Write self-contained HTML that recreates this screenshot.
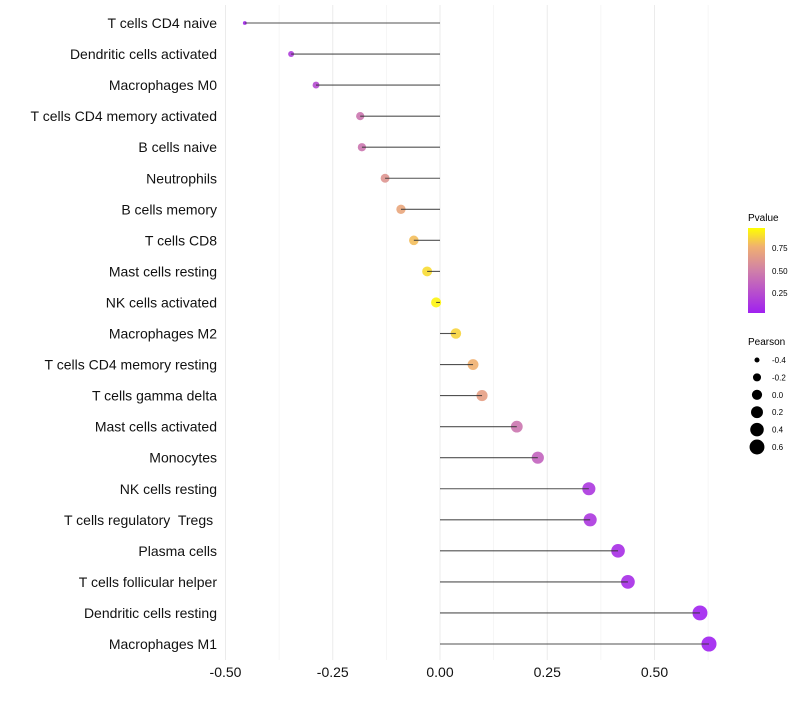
<!DOCTYPE html>
<html><head><meta charset="utf-8">
<style>
body{margin:0;background:#fff;font-family:"Liberation Sans",sans-serif;}
svg text{font-family:"Liberation Sans",sans-serif;white-space:pre;}
</style></head>
<body>
<svg id="chart" width="800" height="700">
<defs>
<linearGradient id="pgrad" x1="0" y1="1" x2="0" y2="0">
<stop offset="0" stop-color="#a020f0"/>
<stop offset="0.5" stop-color="#d080a8"/>
<stop offset="0.78" stop-color="#f0b070"/>
<stop offset="1" stop-color="#ffff00"/>
</linearGradient>
</defs>
<g id="grid"></g>
<g id="marks"></g>
<g id="axes"></g>
<g>
<text x="748" y="221" font-size="10">Pvalue</text>
<rect x="748" y="228" width="17" height="85" fill="url(#pgrad)"/>
<text x="772" y="251" font-size="8">0.75</text>
<text x="772" y="274" font-size="8">0.50</text>
<text x="772" y="296" font-size="8">0.25</text>
</g>
<g id="sizeLegend">
<text x="748" y="345" font-size="10">Pearson</text>
</g>
</svg>
<script>
const categories=["T cells CD4 naive","Dendritic cells activated","Macrophages M0","T cells CD4 memory activated","B cells naive","Neutrophils","B cells memory","T cells CD8","Mast cells resting","NK cells activated","Macrophages M2","T cells CD4 memory resting","T cells gamma delta","Mast cells activated","Monocytes","NK cells resting","T cells regulatory  Tregs ","Plasma cells","T cells follicular helper","Dendritic cells resting","Macrophages M1"];
const pearson=[-0.455,-0.347,-0.289,-0.186,-0.182,-0.128,-0.091,-0.061,-0.030,-0.009,0.037,0.077,0.098,0.179,0.228,0.347,0.350,0.415,0.438,0.606,0.627];
const pvalues=[0.03,0.15,0.22,0.45,0.45,0.62,0.72,0.82,0.9,0.97,0.88,0.78,0.68,0.45,0.35,0.12,0.12,0.07,0.06,0.01,0.005];
const xTicks=[-0.5,-0.25,0,0.25,0.5];
const xTickLabels=["-0.50","-0.25","0.00","0.25","0.50"];
const sizeLegendVals=[-0.4,-0.2,0.0,0.2,0.4,0.6];
const sizeLegendLabels=["-0.4","-0.2","0.0","0.2","0.4","0.6"];

const NS="http://www.w3.org/2000/svg";
const X=v=>440+v*429;
const Y=i=>23+i*31.05;
const R=v=>Math.sqrt(Math.max(2.5,26+49*v));
function lerp(a,b,t){return a.map((x,k)=>Math.round(x+(b[k]-x)*t));}
function col(p){
  const stops=[[0,[160,32,240]],[0.5,[208,128,168]],[0.78,[240,176,112]],[1,[255,255,0]]];
  p=Math.min(1,Math.max(0,p));
  for(let k=0;k<stops.length-1;k++){
    if(p<=stops[k+1][0]){const t=(p-stops[k][0])/(stops[k+1][0]-stops[k][0]);const c=lerp(stops[k][1],stops[k+1][1],t);return `rgb(${c[0]},${c[1]},${c[2]})`;}
  }
  return "rgb(255,255,0)";
}
function mk(tag,attrs,parent){const e=document.createElementNS(NS,tag);for(const k in attrs)e.setAttribute(k,attrs[k]);parent.appendChild(e);return e;}

const grid=document.getElementById('grid');
for(let v=-0.5;v<=0.626;v+=0.125){
  const major=Math.abs((v/0.25)-Math.round(v/0.25))<1e-6;
  const l=mk('line',{x1:X(v),x2:X(v),y1:5,y2:660,stroke:major?'#ebebeb':'#f3f3f3','stroke-width':major?1:0.8},grid);
  
  
}
const marks=document.getElementById('marks');
const axes=document.getElementById('axes');
categories.forEach((c,i)=>{
  const y=Y(i);
  const pt=mk('circle',{cx:X(pearson[i]),cy:y,r:R(pearson[i]),fill:col(pvalues[i]),'fill-opacity':0.9},marks);
  
  
  const seg=mk('line',{x1:X(0),x2:X(pearson[i]),y1:y,y2:y,stroke:'#333','stroke-width':1.1,'stroke-opacity':0.85},marks);
  
  
  const t=mk('text',{x:217,y:y+5,'text-anchor':'end','font-size':14,fill:'#111'},axes);
  t.textContent=c;
  
  
});
xTicks.forEach((v,i)=>{
  const t=mk('text',{x:X(v),y:677,'text-anchor':'middle','font-size':14,fill:'#111'},axes);
  t.textContent=xTickLabels[i];
  
  
});
const sl=document.getElementById('sizeLegend');
sizeLegendVals.forEach((v,i)=>{
  const y=360+i*17.4;
  const c=mk('circle',{cx:757,cy:y,r:R(v),fill:'#000'},sl);
  
  
  const t=mk('text',{x:772,y:y+3,'font-size':8},sl);
  t.textContent=sizeLegendLabels[i];
  
  
});
</script>
</body></html>
